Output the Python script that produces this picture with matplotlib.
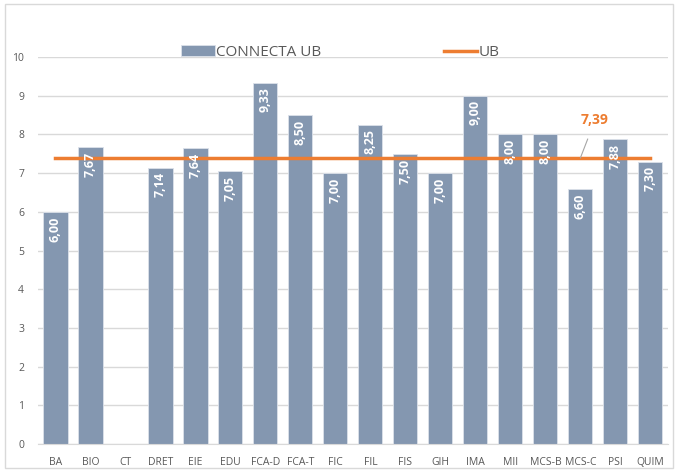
import matplotlib.pyplot as plt
import numpy as np
from matplotlib.patches import Rectangle

categories = ["BA", "BIO", "CT", "DRET", "EIE", "EDU", "FCA-D", "FCA-T", "FIC", "FIL",
              "FIS", "GIH", "IMA", "MII", "MCS-B", "MCS-C", "PSI", "QUIM"]
connecta = [6.00, 7.67, np.nan, 7.14, 7.64, 7.05, 9.33, 8.50, 7.00, 8.25,
            7.50, 7.00, 9.00, 8.00, 8.00, 6.60, 7.88, 7.30]
ub_value = 7.39
ub_label_idx = 15

plt.rcParams['font.family'] = ['Open Sans', 'DejaVu Sans']

bar_color = '#8497B0'
orange = '#ED7D31'
grey_text = '#595959'

fig = plt.figure(figsize=(6.78, 4.72), dpi=100)
ax = fig.add_axes([0.056, 0.0593, 0.929, 0.8199])

x = np.arange(len(categories))
bars = ax.bar(x, np.nan_to_num(connecta), width=0.69, color=bar_color,
              edgecolor='#DCE1EA', linewidth=0.6, label='CONNECTA UB', zorder=2)
line, = ax.plot(x, [ub_value] * len(x), color=orange, linewidth=2.5, label='UB', zorder=3)

for xi, v in zip(x, connecta):
    if np.isnan(v):
        continue
    ax.text(xi, v - 0.12, f"{v:.2f}".replace('.', ','), rotation=90, ha='center', va='top',
            color='white', fontsize=9, fontweight='bold', zorder=4)

# data label for UB line with leader
ax.annotate(f"{ub_value:.2f}".replace('.', ','), xy=(ub_label_idx, ub_value),
            xytext=(ub_label_idx + 0.42, 8.37), ha='center', va='center',
            color=orange, fontsize=10, fontweight='bold',
            arrowprops=dict(arrowstyle='-', color='#A6A6A6', linewidth=0.8,
                            shrinkA=7, shrinkB=0), zorder=5)

ax.set_xlim(-0.5, len(categories) - 0.5)
ax.set_ylim(0, 10)
ax.set_yticks(range(0, 11))
ax.set_xticks(x)
ax.set_xticklabels(categories)
ax.tick_params(axis='both', length=0, labelsize=7.5, colors=grey_text)
ax.tick_params(axis='x', pad=9)
ax.tick_params(axis='y', pad=10)
ax.yaxis.grid(True, color='#D9D9D9', linewidth=1, zorder=0)
ax.set_axisbelow(True)
for s in ['top', 'right', 'left']:
    ax.spines[s].set_visible(False)
ax.spines['bottom'].set_color('#D9D9D9')

fig.legend([bars, line], ['CONNECTA UB', 'UB'], loc='upper left',
           bbox_to_anchor=(0.247, 0.934), ncol=2, frameon=False,
           fontsize=11, handlelength=2.2, handletextpad=0.1, columnspacing=8.0,
           labelcolor=grey_text)

fig.patches.append(Rectangle((0.008, 0.008), 0.984, 0.984, transform=fig.transFigure,
                             fill=False, edgecolor='#D9D9D9', linewidth=1))

fig.savefig('out.png', dpi=100)
